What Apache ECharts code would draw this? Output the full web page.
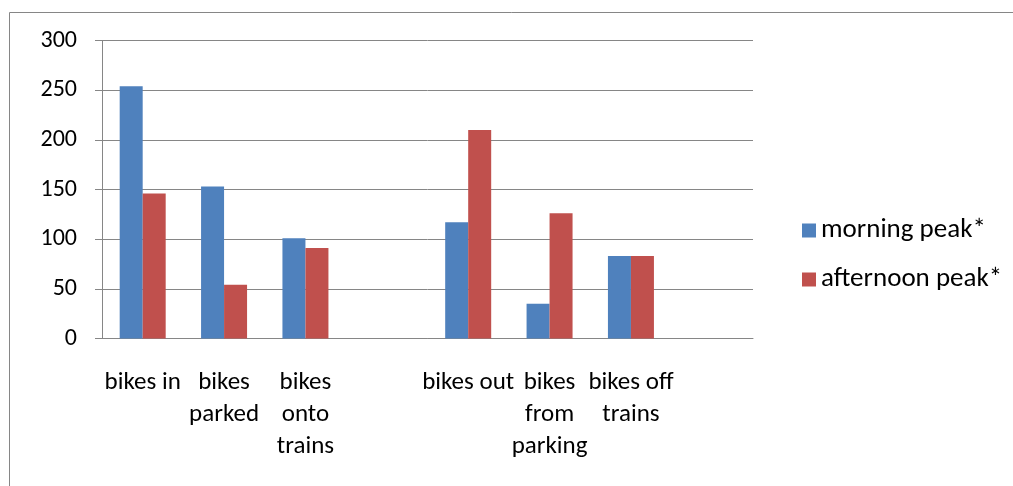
<!DOCTYPE html>
<html>
<head>
<meta charset="utf-8">
<script src="https://cdn.jsdelivr.net/npm/echarts@6/dist/echarts.min.js"></script>
<style>
  html, body { margin: 0; padding: 0; background: #fff; }
  #chart { width: 1013px; height: 486px; }
</style>
</head>
<body>
<div id="chart"></div>
<script>
const categories = [
  "bikes in", "bikes\nparked", "bikes\nonto\ntrains", "",
  "bikes out", "bikes\nfrom\nparking", "bikes off\ntrains", ""
];
const morningPeak = [254, 153, 101, null, 117, 35, 83, null];
const afternoonPeak = [146, 54, 91, null, 210, 126, 83, null];
const seriesNames = ["morning peak*", "afternoon peak*"];

function initChart(chartDom) {
  var myChart = echarts.init(chartDom);
  var font = "Carlito, Calibri, Lato, sans-serif";
  var gray = "#868686";

  var option = {
    animation: false,
    textStyle: { fontFamily: font },
    graphic: [
      {
        type: "rect",
        left: 7,
        top: 10,
        shape: { width: 1100, height: 600 },
        style: { fill: "none", stroke: gray, lineWidth: 1 },
      },
    ],
    legend: {
      orient: "vertical",
      left: 797,
      top: 212,
      itemWidth: 14,
      itemHeight: 14,
      itemGap: 22,
      icon: "rect",
      textStyle: { fontSize: 27, color: "#000", lineHeight: 27, fontFamily: font },
      data: seriesNames,
    },
    grid: { left: 102, right: 260, top: 40.5, height: 298, containLabel: false },
    xAxis: {
      type: "category",
      data: categories,
      axisLine: { lineStyle: { color: gray } },
      axisTick: { length: 6, lineStyle: { color: gray } },
      axisLabel: {
        interval: 0,
        fontSize: 25,
        color: "#000",
        lineHeight: 32,
        margin: 28,
        verticalAlign: "top",
      },
    },
    yAxis: {
      type: "value",
      min: 0,
      max: 300,
      interval: 50,
      axisLine: { show: true, lineStyle: { color: gray } },
      axisTick: { show: true, length: 7, lineStyle: { color: gray } },
      axisLabel: { fontSize: 24, color: "#000", margin: 25 },
      splitLine: { lineStyle: { color: gray } },
    },
    series: [
      {
        name: seriesNames[0],
        type: "bar",
        barWidth: 23,
        barGap: "0%",
        itemStyle: { color: "#4F81BD" },
        data: morningPeak,
      },
      {
        name: seriesNames[1],
        type: "bar",
        barWidth: 23,
        barGap: "0%",
        itemStyle: { color: "#C0504D" },
        data: afternoonPeak,
      },
    ],
  };

  myChart.setOption(option);
}

initChart(document.getElementById("chart"));
</script>
</body>
</html>
